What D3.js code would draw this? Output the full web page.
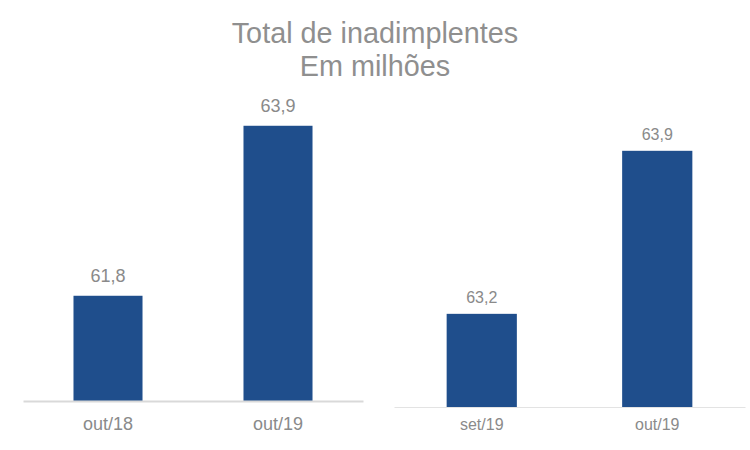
<!DOCTYPE html>
<html>
<head>
<meta charset="utf-8">
<script src="https://cdn.jsdelivr.net/npm/d3@7"></script>
<style>
  html, body { margin: 0; padding: 0; background: #fff; }
  svg { display: block; font-family: Arial, "Liberation Sans", sans-serif; }
</style>
</head>
<body>
<svg id="chart" width="750" height="450"></svg>
<script>
const titleLines = ["Total de inadimplentes", "Em milhões"];

const leftCategories = ["out/18", "out/19"];
const leftValues = [61.8, 63.9];
const leftLabels = ["61,8", "63,9"];

const rightCategories = ["set/19", "out/19"];
const rightValues = [63.2, 63.9];
const rightLabels = ["63,2", "63,9"];

const svg = d3.select("#chart");
const barColor = "#1f4e8c";
const textColor = "#8a8a8a";

svg.append("g").selectAll("text").data(titleLines).join("text")
  .attr("x", 375)
  .attr("y", (d, i) => 42.5 + i * 33)
  .attr("text-anchor", "middle")
  .attr("font-size", 28.8)
  .attr("fill", "#8f8f8f")
  .text(d => d);

function panel(cfg) {
  const x = d3.scaleBand().domain(cfg.categories)
    .range([cfg.x0, cfg.x1]).paddingInner(cfg.pad).paddingOuter(cfg.pad / 2);
  const y = d3.scaleLinear().domain(cfg.domain).range([cfg.base, cfg.top]);
  const g = svg.append("g");
  const data = cfg.categories.map((c, i) => ({ c, v: cfg.values[i], l: cfg.labels[i] }));

  g.selectAll("rect").data(data).join("rect")
    .attr("x", d => x(d.c))
    .attr("width", x.bandwidth())
    .attr("y", d => y(d.v))
    .attr("height", d => y(cfg.domain[0]) - y(d.v))
    .attr("fill", barColor);

  const axis = d3.axisBottom(x).tickSize(0).tickPadding(cfg.tickPad);
  const ag = g.append("g").attr("transform", `translate(0,${cfg.base})`).call(axis);
  ag.select(".domain").attr("stroke", cfg.axisColor).attr("stroke-width", cfg.axisWidth);
  ag.selectAll("text").attr("font-size", cfg.fontSize).attr("fill", textColor)
    .attr("font-family", "Arial, 'Liberation Sans', sans-serif");

  g.selectAll("text.val").data(data).join("text")
    .attr("class", "val")
    .attr("x", d => x(d.c) + x.bandwidth() / 2)
    .attr("y", d => y(d.v) - cfg.labelGap)
    .attr("text-anchor", "middle")
    .attr("font-size", cfg.fontSize)
    .attr("fill", textColor)
    .text(d => d.l);
}

panel({
  categories: leftCategories, values: leftValues, labels: leftLabels,
  x0: 23, x1: 363, pad: 0.594, domain: [60.5, 64], base: 401, top: 401 - 3.5 * 80.95,
  fontSize: 18, labelGap: 13.5, tickPad: 16, axisColor: "#d9d9d9", axisWidth: 2
});

panel({
  categories: rightCategories, values: rightValues, labels: rightLabels,
  x0: 394, x1: 745, pad: 0.6, domain: [62.8, 64], base: 407, top: 407 - 1.2 * 232.9,
  fontSize: 16, labelGap: 11, tickPad: 12, axisColor: "#e3e3e3", axisWidth: 1.2
});
</script>
</body>
</html>
